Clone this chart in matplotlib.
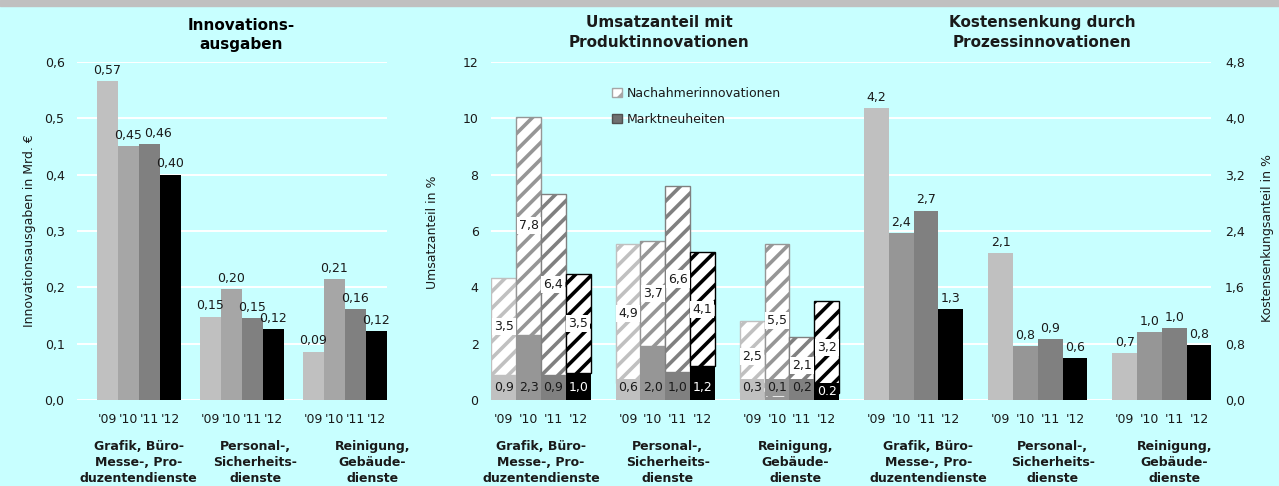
import numpy as np
import matplotlib
matplotlib.use('Agg')
import matplotlib.pyplot as plt
from matplotlib.patches import Patch, Rectangle
from matplotlib.ticker import FixedLocator, FuncFormatter

# data
years = ["'09", "'10", "'11", "'12"]
branchen = ["Grafik, Büro-\nMesse-, Pro-\nduzentendienste",
            "Personal-,\nSicherheits-\ndienste",
            "Reinigung,\nGebäude-\ndienste"]

# Innovationsausgaben in Mrd. EUR
ausgaben = [[0.566, 0.451, 0.455, 0.400],
            [0.148, 0.197, 0.145, 0.126],
            [0.086, 0.215, 0.161, 0.122]]
ausgaben_lbl = [["0,57", "0,45", "0,46", "0,40"],
                ["0,15", "0,20", "0,15", "0,12"],
                ["0,09", "0,21", "0,16", "0,12"]]

# Umsatzanteil in % (Marktneuheiten unten, Nachahmer oben)
markt = [[0.89, 2.31, 0.89, 0.95],
         [0.60, 1.92, 0.99, 1.20],
         [0.30, 0.10, 0.20, 0.24]]
markt_lbl = [["0,9", "2,3", "0,9", "1,0"],
             ["0,6", "2,0", "1,0", "1,2"],
             ["0,3", "0,1", "0,2", "0.2"]]
nachahmer = [[3.45, 7.75, 6.42, 3.52],
             [4.94, 3.72, 6.61, 4.05],
             [2.50, 5.44, 2.04, 3.27]]
nachahmer_lbl = [["3,5", "7,8", "6,4", "3,5"],
                 ["4,9", "3,7", "6,6", "4,1"],
                 ["2,5", "5,5", "2,1", "3,2"]]

# Kostensenkungsanteil in %
kosten = [[4.15, 2.37, 2.69, 1.29],
          [2.09, 0.77, 0.87, 0.60],
          [0.67, 0.97, 1.02, 0.78]]
kosten_lbl = [["4,2", "2,4", "2,7", "1,3"],
              ["2,1", "0,8", "0,9", "0,6"],
              ["0,7", "1,0", "1,0", "0,8"]]

# style
bg = '#C8FFFF'
txt = '#1a1a1a'
cols_left = ['#C0C0C0', '#A6A6A6', '#808080', '#000000']
cols = ['#C0C0C0', '#969696', '#808080', '#000000']
plt.rcParams['font.family'] = 'DejaVu Sans'
plt.rcParams['hatch.linewidth'] = 2.6

fig = plt.figure(figsize=(12.79, 4.86), dpi=100, facecolor=bg)
fig.patches.append(Rectangle((0, 1 - 6 / 486), 1, 6 / 486, transform=fig.transFigure,
                             color='#C0C0C0', zorder=0))

H = 338 / 486
B = 86 / 486


def fmt1(v, p):
    return ('%.1f' % v).replace('.', ',')


# ---------- left panel ----------
ax1 = fig.add_axes([77 / 1279, B, 310 / 1279, H])
ax1.set_facecolor('none')
w1 = 0.203
offs1 = (np.arange(4) - 1.5) * w1
nudge = {(0, 2): 6}  # "0,46" sits a bit to the right in the original
xt = []
for g in range(3):
    for i in range(4):
        x = g + offs1[i]
        xt.append(x)
        ax1.bar(x, ausgaben[g][i], w1, color=cols_left[i], zorder=2)
        ax1.annotate(ausgaben_lbl[g][i], (x, ausgaben[g][i]),
                     xytext=(nudge.get((g, i), 0), 3),
                     textcoords='offset points', ha='center', va='bottom',
                     fontsize=9, color=txt, zorder=4)
ax1.set_xlim(-0.6, 2.41)
ax1.set_ylim(0, 0.6)
ax1.yaxis.set_major_locator(FixedLocator(np.arange(0, 0.61, 0.1)))
ax1.yaxis.set_major_formatter(FuncFormatter(fmt1))
ax1.set_xticks(xt)
ax1.set_xticklabels(years * 3)
ax1.tick_params(length=0, labelsize=9, colors=txt)
ax1.tick_params(axis='x', pad=9)
ax1.tick_params(axis='y', pad=9)
ax1.yaxis.grid(True, color='white', lw=1.4)
ax1.set_axisbelow(True)
for s in ax1.spines.values():
    s.set_visible(False)
ax1.set_title("Innovations-\nausgaben", fontsize=11, fontweight='bold', pad=9, x=0.53,
              linespacing=1.4)
lx1 = [0.0, 1.13, 2.27]
for g in range(3):
    ax1.text(lx1[g], -0.185, branchen[g], transform=ax1.get_xaxis_transform(),
             ha='center', va='center', fontsize=9, fontweight='bold',
             linespacing=1.3, color=txt)

# ---------- middle + right panel ----------
ax2 = fig.add_axes([491 / 1279, B, 720 / 1279, H])
ax2.set_facecolor('none')
ax3 = ax2.twinx()
w2 = 0.2
offs2 = (np.arange(4) - 1.5) * w2
xt2 = []
for g in range(3):
    for i in range(4):
        x = g + offs2[i]
        xt2.append(x)
        ax2.bar(x, markt[g][i], w2, color=cols[i], zorder=2)
        ax2.bar(x, nachahmer[g][i], w2, bottom=markt[g][i], facecolor='white',
                edgecolor=cols[i], hatch='//', lw=1, zorder=2)
        ax2.text(x, nachahmer[g][i] / 2 + markt[g][i], nachahmer_lbl[g][i],
                 ha='center', va='center', fontsize=9, color=txt, zorder=5,
                 bbox=dict(facecolor='white', edgecolor='none', pad=1.5))
        yb = 0.3 if markt_lbl[g][i] == "0.2" else 0.45
        ax2.text(x, yb, markt_lbl[g][i], ha='center', va='center', fontsize=9,
                 color='white' if i == 3 else txt, zorder=5,
                 bbox=dict(facecolor=cols[i], edgecolor='none', pad=1.5))
for g in range(3):
    for i in range(4):
        x = 3 + g + offs2[i]
        xt2.append(x)
        ax3.bar(x, kosten[g][i], w2, color=cols[i], zorder=2)
        ax3.annotate(kosten_lbl[g][i], (x, kosten[g][i]), xytext=(0, 3),
                     textcoords='offset points', ha='center', va='bottom',
                     fontsize=9, color=txt, zorder=4)

ax2.set_xlim(-0.403, 5.395)
ax2.set_ylim(0, 12)
ax3.set_ylim(0, 4.8)
ax2.yaxis.set_major_locator(FixedLocator(np.arange(0, 12.1, 2)))
ax3.yaxis.set_major_locator(FixedLocator(np.arange(0, 4.81, 0.8)))
ax3.yaxis.set_major_formatter(FuncFormatter(fmt1))
ax2.set_xticks(xt2)
ax2.set_xticklabels(years * 6)
for a in (ax2, ax3):
    a.tick_params(length=0, labelsize=9, colors=txt)
    for s in a.spines.values():
        s.set_visible(False)
ax2.tick_params(axis='x', pad=9)
ax2.tick_params(axis='y', pad=9)
ax3.tick_params(axis='y', pad=10)
ax2.yaxis.grid(True, color='white', lw=1.4)
ax2.set_axisbelow(True)

titles = ["Umsatzanteil mit\nProduktinnovationen", "Kostensenkung durch\nProzessinnovationen"]
tx = [(659 - 491) / 720, (1042 - 491) / 720]
for t, x in zip(titles, tx):
    ax2.text(x, 1.035, t, transform=ax2.transAxes, ha='center', va='bottom',
             fontsize=11, fontweight='bold', linespacing=1.4, color=txt)

lx2 = [0.0, 1.02, 2.05, 3.12, 4.12, 5.1]
for k in range(6):
    ax2.text(lx2[k], -0.185, branchen[k % 3], transform=ax2.get_xaxis_transform(),
             ha='center', va='center', fontsize=9, fontweight='bold',
             linespacing=1.3, color=txt)

handles = [Patch(facecolor='white', edgecolor='#A6A6A6', hatch='//', lw=1),
           Patch(facecolor='#707070', edgecolor='#505050', lw=1)]
ax2.legend(handles, ['Nachahmerinnovationen', 'Marktneuheiten'], loc='upper left',
           bbox_to_anchor=(0.16, 0.945), frameon=False, fontsize=9, borderpad=0,
           handlelength=0.75, handleheight=0.75, handletextpad=0.4,
           labelspacing=1.05, labelcolor=txt)

# y-axis labels
fig.text(30 / 1279, 1 - 231 / 486, 'Innovationsausgaben in Mrd. €', rotation=90,
         ha='center', va='center', fontsize=9, color=txt)
fig.text(432 / 1279, 1 - 232 / 486, 'Umsatzanteil in %', rotation=90,
         ha='center', va='center', fontsize=9, color=txt)
fig.text(1267 / 1279, 1 - 238 / 486, 'Kostensenkungsanteil in %', rotation=90,
         ha='center', va='center', fontsize=9, color=txt)

fig.savefig('out.png', dpi=100, facecolor=bg)
